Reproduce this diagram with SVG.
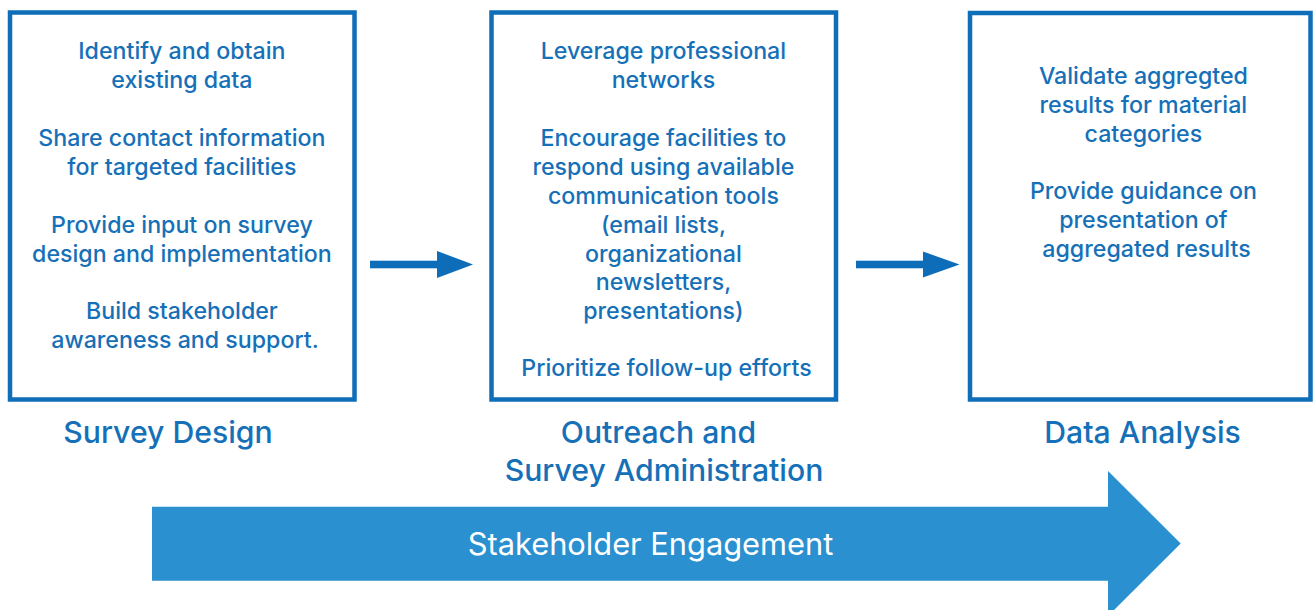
<svg xmlns="http://www.w3.org/2000/svg" width="1314" height="610" viewBox="0 0 1314 610">
  <style>
    .box { fill: #ffffff; stroke: #0F6EB8; stroke-width: 4.5; }
    .item { font-family: Inter, "Liberation Sans", Arial, sans-serif; font-weight: 500; font-size: 23.2px; fill: #1670B8; text-anchor: middle; }
    .title { font-family: Inter, "Liberation Sans", Arial, sans-serif; font-weight: 500; font-size: 30.2px; fill: #1670B8; text-anchor: middle; }
    .banner { font-family: Inter, "Liberation Sans", Arial, sans-serif; font-weight: 400; font-size: 30.8px; fill: #ffffff; text-anchor: middle; }
    .flow { fill: #0D6DB8; }
  </style>
  <rect width="1314" height="610" fill="#ffffff"/>

  <!-- Stage 1 -->
  <g id="survey-design">
    <rect class="box" x="10" y="12.5" width="344.5" height="387"/>
    <text class="item">
      <tspan x="185" y="59">Identify and obtain</tspan>
      <tspan x="185" y="88">existing data</tspan>
      <tspan x="185" y="146">Share contact information</tspan>
      <tspan x="185" y="175">for targeted facilities</tspan>
      <tspan x="185" y="233">Provide input on survey</tspan>
      <tspan x="185" y="262">design and implementation</tspan>
      <tspan x="185" y="319">Build stakeholder</tspan>
      <tspan x="185" y="348">awareness and support.</tspan>
    </text>
    <text class="title" x="168" y="443">Survey Design</text>
  </g>

  <!-- Stage 2 -->
  <g id="outreach">
    <rect class="box" x="491.5" y="12.5" width="344.5" height="387"/>
    <text class="item">
      <tspan x="666.5" y="59">Leverage professional</tspan>
      <tspan x="666.5" y="88">networks</tspan>
      <tspan x="666.5" y="146">Encourage facilities to</tspan>
      <tspan x="666.5" y="175">respond using available</tspan>
      <tspan x="666.5" y="204">communication tools</tspan>
      <tspan x="666.5" y="233">(email lists,</tspan>
      <tspan x="666.5" y="261.5">organizational</tspan>
      <tspan x="666.5" y="290">newsletters,</tspan>
      <tspan x="666.5" y="319">presentations)</tspan>
      <tspan x="666.5" y="376">Prioritize follow-up efforts</tspan>
    </text>
    <text class="title">
      <tspan x="662.5" y="443">Outreach and</tspan>
      <tspan x="664" y="481">Survey Administration</tspan>
    </text>
  </g>

  <!-- Stage 3 -->
  <g id="data-analysis">
    <rect class="box" x="970" y="13" width="340.5" height="386.5"/>
    <text class="item">
      <tspan x="1146.5" y="84">Validate aggregted</tspan>
      <tspan x="1146.5" y="113">results for material</tspan>
      <tspan x="1146.5" y="142">categories</tspan>
      <tspan x="1146.5" y="199">Provide guidance on</tspan>
      <tspan x="1146.5" y="228">presentation of</tspan>
      <tspan x="1146.5" y="257">aggregated results</tspan>
    </text>
    <text class="title" x="1142.5" y="443">Data Analysis</text>
  </g>

  <!-- Arrows between stages -->
  <g id="connectors">
    <rect class="flow" x="370" y="260.7" width="67.5" height="7.6"/>
    <polygon class="flow" points="437,251 473,264.5 437,278"/>
    <rect class="flow" x="856" y="260.7" width="67.5" height="7.6"/>
    <polygon class="flow" points="923,251.5 959.5,264.5 923,277.5"/>
  </g>

  <!-- Engagement band spanning all stages -->
  <g id="stakeholder-engagement">
    <polygon fill="#2A90D0" points="152,506.7 1108,506.7 1108,471 1180.7,543.5 1108,616 1108,580.7 152,580.7"/>
    <text class="banner" x="650.5" y="555">Stakeholder Engagement</text>
  </g>
</svg>
